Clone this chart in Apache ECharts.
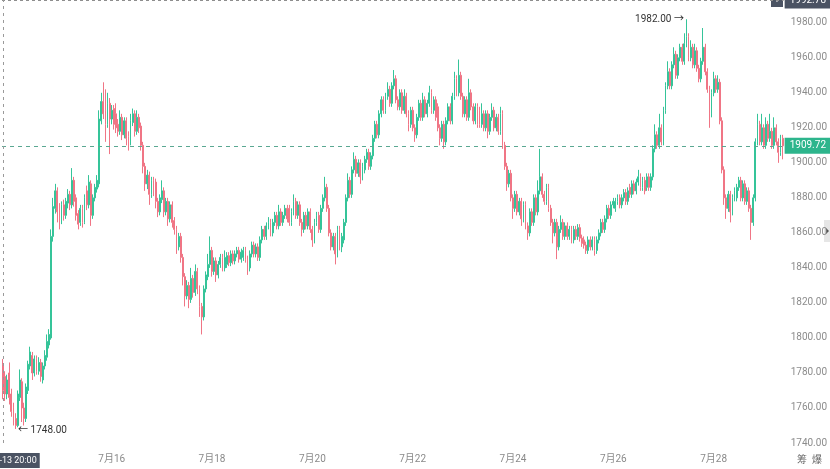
<!DOCTYPE html>
<html>
<head>
<meta charset="utf-8">
<title>K线</title>
<script src="https://cdn.jsdelivr.net/npm/echarts/dist/echarts.min.js"></script>
<style>
  html, body { margin: 0; padding: 0; background: #fff; }
  #main { width: 830px; height: 469px; }
</style>
</head>
<body>
<div id="main"></div>
<script>
// 1小时K线 [open, close, low, high]
const candles = [
  [1785,1770,1765,1788],[1778,1768,1764,1781],[1768,1776,1765,1779],[1780,1766,1762,1786],
  [1768,1758,1755,1771],[1760,1752,1750,1763],[1754,1750,1748,1757],[1750,1768,1749,1770],
  [1766,1776,1764,1782],[1775,1760,1752,1777],[1760,1754,1750,1763],[1754,1772,1752,1774],
  [1770,1785,1768,1787],[1784,1792,1782,1795],[1790,1780,1776,1792],[1780,1788,1778,1790],
  [1788,1781,1779,1790],[1781,1786,1779,1789],[1786,1778,1775,1788],[1776,1784,1774,1786],
  [1784,1790,1782,1793],[1789,1798,1787,1802],[1796,1802,1794,1805],[1800,1858,1799,1862],
  [1858,1875,1855,1880],[1874,1884,1871,1888],[1884,1872,1866,1886],[1873,1868,1862,1877],
  [1868,1876,1865,1878],[1876,1870,1867,1879],[1870,1878,1868,1880],[1877,1882,1874,1885],
  [1882,1876,1873,1884],[1876,1890,1874,1897],[1890,1878,1875,1892],[1880,1870,1867,1882],
  [1871,1865,1862,1873],[1866,1874,1864,1876],[1874,1866,1863,1876],[1866,1880,1865,1882],
  [1884,1876,1873,1887],[1876,1889,1874,1893],[1888,1870,1864,1890],[1870,1880,1868,1882],
  [1880,1886,1878,1888],[1885,1890,1883,1893],[1888,1925,1886,1930],[1924,1935,1922,1940],
  [1935,1928,1925,1946],[1930,1922,1912,1942],[1922,1934,1920,1940],[1934,1925,1905,1937],
  [1925,1930,1922,1933],[1931,1922,1919,1933],[1928,1920,1917,1934],[1922,1918,1915,1925],
  [1918,1926,1916,1930],[1926,1916,1913,1928],[1916,1924,1914,1926],[1924,1914,1910,1926],
  [1915,1912,1907,1918],[1912,1924,1910,1928],[1923,1928,1921,1931],[1928,1918,1915,1930],
  [1918,1926,1916,1930],[1926,1920,1917,1928],[1921,1910,1907,1923],[1910,1898,1894,1912],
  [1898,1888,1884,1900],[1888,1893,1885,1896],[1893,1882,1876,1895],[1882,1890,1880,1892],
  [1890,1884,1881,1892],[1889,1878,1874,1891],[1878,1872,1869,1880],[1872,1880,1870,1882],
  [1879,1884,1877,1890],[1884,1872,1869,1886],[1872,1878,1870,1880],[1878,1868,1864,1880],
  [1868,1876,1866,1878],[1876,1866,1863,1878],[1867,1862,1859,1869],[1862,1852,1848,1864],
  [1852,1858,1850,1860],[1858,1846,1843,1860],[1846,1835,1830,1848],[1835,1824,1818,1837],
  [1824,1830,1822,1833],[1830,1822,1817,1832],[1822,1834,1820,1840],[1834,1826,1823,1836],
  [1826,1838,1824,1842],[1838,1828,1825,1840],[1828,1818,1812,1830],[1818,1812,1802,1820],
  [1812,1828,1810,1830],[1828,1836,1826,1838],[1835,1842,1833,1848],[1842,1850,1840,1858],
  [1850,1838,1835,1852],[1838,1844,1836,1846],[1844,1836,1832,1846],[1836,1842,1834,1844],
  [1842,1846,1840,1848],[1846,1840,1838,1848],[1840,1846,1838,1850],[1842,1847,1840,1849],
  [1847,1843,1841,1849],[1843,1848,1841,1850],[1848,1844,1842,1850],[1844,1848,1842,1850],
  [1848,1850,1846,1852],[1850,1845,1843,1852],[1845,1849,1843,1851],[1846,1850,1844,1852],
  [1850,1845,1843,1852],[1845,1840,1836,1847],[1840,1848,1838,1850],[1848,1853,1846,1855],
  [1853,1848,1846,1855],[1848,1852,1846,1854],[1852,1846,1844,1854],[1846,1856,1844,1858],
  [1856,1862,1854,1864],[1862,1858,1856,1864],[1858,1864,1856,1866],[1864,1866,1862,1869],
  [1866,1860,1858,1868],[1860,1866,1858,1868],[1866,1870,1864,1872],[1870,1864,1862,1872],
  [1864,1872,1862,1876],[1872,1866,1864,1874],[1866,1870,1864,1872],[1870,1874,1868,1876],
  [1874,1868,1866,1876],[1874,1866,1864,1876],[1866,1872,1864,1874],[1872,1878,1870,1882],
  [1878,1870,1868,1880],[1870,1876,1868,1878],[1876,1866,1864,1878],[1866,1862,1858,1868],
  [1862,1870,1860,1872],[1870,1864,1862,1872],[1864,1872,1862,1874],[1872,1862,1860,1874],
  [1862,1856,1852,1864],[1856,1866,1854,1868],[1866,1870,1864,1872],[1870,1862,1860,1872],
  [1862,1874,1860,1876],[1874,1880,1872,1882],[1880,1886,1878,1892],[1886,1874,1872,1888],
  [1874,1860,1858,1876],[1860,1852,1850,1862],[1852,1858,1850,1860],[1858,1848,1842,1860],
  [1848,1862,1846,1864],[1862,1852,1850,1864],[1852,1858,1849,1860],[1856,1866,1854,1868],
  [1866,1880,1864,1882],[1880,1890,1878,1894],[1890,1882,1880,1892],[1882,1896,1880,1898],
  [1896,1902,1894,1906],[1902,1894,1892,1904],[1894,1900,1892,1902],[1900,1892,1888,1902],
  [1892,1898,1890,1900],[1896,1902,1894,1904],[1902,1906,1900,1908],[1906,1898,1896,1908],
  [1898,1904,1896,1906],[1904,1914,1902,1916],[1914,1922,1912,1924],[1922,1916,1914,1924],
  [1916,1928,1914,1930],[1928,1936,1926,1938],[1936,1930,1928,1938],[1930,1938,1928,1940],
  [1938,1942,1936,1946],[1942,1934,1932,1944],[1934,1944,1932,1946],[1944,1948,1942,1953],
  [1948,1936,1934,1950],[1936,1932,1930,1938],[1932,1940,1930,1942],[1940,1930,1928,1942],
  [1930,1938,1928,1942],[1938,1928,1926,1940],[1928,1922,1918,1930],[1922,1930,1920,1932],
  [1930,1920,1918,1932],[1920,1916,1912,1922],[1916,1926,1914,1928],[1926,1934,1924,1936],
  [1934,1926,1924,1936],[1926,1936,1924,1940],[1936,1928,1926,1938],[1928,1934,1926,1936],
  [1934,1940,1932,1944],[1940,1930,1928,1942],[1930,1936,1928,1938],[1936,1926,1924,1938],
  [1932,1920,1918,1934],[1920,1914,1910,1922],[1914,1922,1912,1924],[1922,1912,1908,1924],
  [1912,1924,1910,1926],[1924,1932,1922,1934],[1932,1924,1922,1934],[1924,1938,1922,1940],
  [1938,1948,1936,1952],[1948,1940,1938,1950],[1940,1950,1938,1959],[1950,1938,1936,1952],
  [1938,1928,1926,1940],[1928,1936,1926,1938],[1936,1926,1924,1938],[1926,1940,1924,1948],
  [1940,1932,1930,1942],[1932,1924,1922,1934],[1924,1932,1922,1934],[1932,1922,1920,1934],
  [1930,1922,1920,1932],[1922,1928,1920,1934],[1928,1920,1918,1930],[1920,1928,1918,1930],
  [1928,1918,1914,1930],[1918,1926,1916,1928],[1926,1930,1924,1934],[1930,1920,1918,1932],
  [1920,1926,1918,1928],[1926,1918,1916,1928],[1918,1928,1916,1932],[1928,1910,1908,1930],
  [1910,1898,1896,1912],[1898,1888,1884,1900],[1888,1894,1886,1896],[1894,1880,1878,1896],
  [1880,1874,1868,1882],[1874,1882,1872,1884],[1882,1872,1870,1884],[1872,1878,1870,1880],
  [1878,1868,1864,1880],[1868,1876,1866,1878],[1876,1864,1862,1878],[1864,1860,1856,1866],
  [1860,1872,1858,1874],[1872,1866,1864,1874],[1866,1880,1864,1882],[1880,1872,1870,1882],
  [1872,1884,1870,1890],[1884,1892,1882,1908],[1892,1882,1880,1894],[1882,1878,1876,1884],
  [1878,1886,1876,1888],[1886,1874,1872,1888],[1874,1866,1864,1876],[1866,1860,1854,1868],
  [1860,1866,1858,1868],[1866,1852,1845,1868],[1852,1862,1850,1864],[1862,1866,1860,1870],
  [1866,1858,1856,1868],[1858,1864,1856,1866],[1864,1858,1856,1866],[1858,1862,1856,1864],
  [1862,1856,1854,1864],[1856,1862,1854,1864],[1862,1858,1856,1864],[1858,1863,1856,1865],
  [1863,1857,1855,1865],[1857,1854,1852,1859],[1856,1853,1851,1858],[1853,1850,1848,1855],
  [1850,1856,1848,1858],[1856,1852,1850,1858],[1852,1856,1850,1858],[1856,1850,1847,1858],
  [1850,1856,1848,1858],[1856,1860,1854,1862],[1860,1866,1858,1868],[1866,1862,1860,1868],
  [1862,1868,1860,1870],[1868,1874,1866,1876],[1874,1870,1868,1876],[1870,1876,1868,1878],
  [1876,1878,1874,1880],[1874,1878,1872,1880],[1878,1880,1876,1882],[1880,1876,1874,1882],
  [1876,1880,1874,1882],[1880,1883,1878,1885],[1883,1878,1876,1885],[1878,1884,1876,1886],
  [1886,1882,1880,1888],[1882,1888,1880,1890],[1888,1884,1882,1890],[1884,1889,1882,1891],
  [1889,1892,1887,1896],[1892,1886,1884,1894],[1886,1890,1884,1892],[1890,1884,1882,1892],
  [1886,1892,1884,1894],[1892,1886,1884,1894],[1886,1892,1884,1894],[1892,1908,1890,1910],
  [1908,1916,1906,1922],[1916,1910,1908,1918],[1910,1920,1908,1928],[1920,1912,1910,1922],
  [1912,1930,1910,1932],[1930,1944,1928,1946],[1944,1952,1942,1958],[1952,1944,1942,1954],
  [1944,1956,1942,1958],[1956,1962,1954,1966],[1962,1950,1948,1964],[1950,1960,1948,1962],
  [1960,1966,1958,1968],[1966,1958,1956,1968],[1958,1968,1956,1974],[1968,1972,1966,1982],
  [1972,1960,1958,1974],[1960,1966,1958,1970],[1966,1956,1954,1968],[1956,1964,1954,1968],
  [1964,1954,1952,1966],[1954,1948,1946,1956],[1948,1958,1946,1960],[1958,1966,1956,1977],
  [1966,1952,1950,1968],[1952,1942,1940,1954],[1942,1928,1920,1944],[1928,1940,1926,1942],
  [1940,1948,1938,1952],[1948,1942,1940,1950],[1942,1946,1940,1950],[1946,1924,1922,1948],
  [1924,1896,1894,1926],[1896,1880,1876,1898],[1880,1874,1868,1882],[1874,1882,1872,1884],
  [1882,1872,1866,1884],[1872,1880,1870,1882],[1880,1884,1878,1886],[1880,1886,1878,1888],
  [1886,1890,1884,1892],[1890,1880,1878,1892],[1880,1888,1878,1890],[1888,1878,1876,1890],
  [1878,1884,1876,1886],[1884,1874,1872,1886],[1874,1866,1856,1876],[1866,1880,1864,1882],
  [1880,1912,1878,1914],[1912,1922,1910,1928],[1922,1912,1910,1924],[1912,1920,1910,1928],
  [1920,1910,1908,1922],[1910,1922,1908,1926],[1922,1914,1912,1924],[1914,1918,1912,1928],
  [1918,1910,1908,1920],[1910,1920,1908,1926],[1920,1912,1910,1922],[1912,1906,1900,1914],
  [1906,1914,1904,1916],[1914,1909.72,1902,1916]
]

// 时间轴: 7-13 20:00 起, 每根1小时
const startTime = Date.UTC(2020, 6, 13, 20)
const dateLabels = ['07-16', '07-18', '07-20', '07-22', '07-24', '07-26', '07-28']
const lastPrice = 1909.72
const crossPrice = 1992.78
const crossTime = '07-13 20:00'

const pad = n => (n < 10 ? '0' + n : '' + n)
const categories = candles.map((c, i) => {
  const d = new Date(startTime + i * 3600 * 1000)
  return pad(d.getUTCMonth() + 1) + '-' + pad(d.getUTCDate()) + ' ' + pad(d.getUTCHours()) + ':00'
})

const upColor = '#35c499'
const downColor = '#f07585'
const font = 'Roboto, "Noto Sans CJK SC", sans-serif'

const chart = echarts.init(document.getElementById('main'))
chart.setOption({
  animation: false,
  backgroundColor: '#fff',
  grid: {
    left: 2,
    right: 46,
    top: 0,
    bottom: 26,
  },
  xAxis: {
    type: 'category',
    data: categories,
    boundaryGap: true,
    axisLine: { show: false },
    axisTick: { show: false },
    splitLine: { show: false },
    axisLabel: {
      color: '#8a8a8a',
      fontSize: 10,
      fontFamily: font,
      margin: 11,
      interval: (idx, val) => {
        return val.slice(6) === '00:00' && dateLabels.indexOf(val.slice(0, 5)) > -1
      },
      formatter: val => {
        return parseInt(val.slice(0, 2), 10) + '月' + parseInt(val.slice(3, 5), 10)
      },
    },
  },
  yAxis: {
    type: 'value',
    position: 'right',
    min: 1740,
    max: 1993,
    interval: 20,
    axisLine: { show: false },
    axisTick: { show: false },
    splitLine: { show: false },
    axisLabel: {
      color: '#8c8c8c',
      fontSize: 10,
      fontFamily: font,
      margin: 7,
      showMaxLabel: false,
      formatter: v => v.toFixed(2),
    },
  },
  series: [
    {
      type: 'candlestick',
      data: candles,
      barWidth: '65%',
      itemStyle: {
        color: upColor,
        color0: downColor,
        borderColor: upColor,
        borderColor0: downColor,
        borderWidth: 1,
      },
      markPoint: {
        symbol: 'circle',
        symbolSize: 1,
        itemStyle: { color: 'rgba(0,0,0,0)' },
        label: {
          color: '#333',
          fontSize: 10,
          fontFamily: font,
        },
        data: [
          {
            type: 'max',
            valueDim: 'highest',
            label: {
              position: 'left',
              distance: 2,
              formatter: p => p.value.toFixed(2) + ' →',
            },
          },
          {
            type: 'min',
            valueDim: 'lowest',
            label: {
              position: 'right',
              distance: 2,
              offset: [0, 2],
              formatter: p => '← ' + p.value.toFixed(2),
            },
          },
        ],
      },
      markLine: {
        symbol: 'none',
        silent: true,
        animation: false,
        data: [
          {
            yAxis: lastPrice,
            lineStyle: { color: '#5aa892', type: [4, 4], width: 1 },
            label: {
              position: 'end',
              distance: 1,
              formatter: lastPrice.toFixed(2),
              backgroundColor: '#2db58c',
              color: '#fff',
              fontSize: 10,
              fontFamily: font,
              padding: [3, 5, 3, 5],
            },
          },
          {
            yAxis: crossPrice,
            lineStyle: { color: '#8e8e8e', type: [3, 3], width: 1 },
            label: {
              position: 'end',
              distance: 1,
              formatter: crossPrice.toFixed(2),
              backgroundColor: '#4b5363',
              color: '#fff',
              fontSize: 10,
              fontFamily: font,
              padding: [3, 5, 3, 5],
            },
          },
          {
            xAxis: crossTime,
            lineStyle: { color: '#9a9a9a', type: [3, 4], width: 1 },
            label: {
              position: 'start',
              distance: 10,
              offset: [10, 0],
              formatter: crossTime,
              backgroundColor: '#4b5363',
              color: '#fff',
              fontSize: 9,
              fontFamily: font,
              padding: [3, 3, 3, 3],
            },
          },
        ],
      },
    },
  ],
  graphic: [
    {
      type: 'group',
      right: 47,
      top: -7,
      children: [
        { type: 'rect', shape: { width: 12, height: 14 }, style: { fill: '#4b5363' } },
        { type: 'text', x: 6, y: 7, style: { text: '+', fill: '#fff', fontSize: 11, align: 'center', verticalAlign: 'middle' } },
      ],
    },
    {
      type: 'group',
      right: 0,
      top: 220,
      children: [
        { type: 'rect', shape: { width: 6, height: 22 }, style: { fill: '#e6e6e6' } },
        { type: 'polygon', shape: { points: [[2, 8], [5, 11], [2, 14]] }, style: { fill: '#555' } },
      ],
    },
    {
      type: 'text',
      right: 8,
      bottom: 4,
      style: { text: '筹  爆', fill: '#666', fontSize: 10, fontFamily: font },
    },
  ],
})
</script>
</body>
</html>
